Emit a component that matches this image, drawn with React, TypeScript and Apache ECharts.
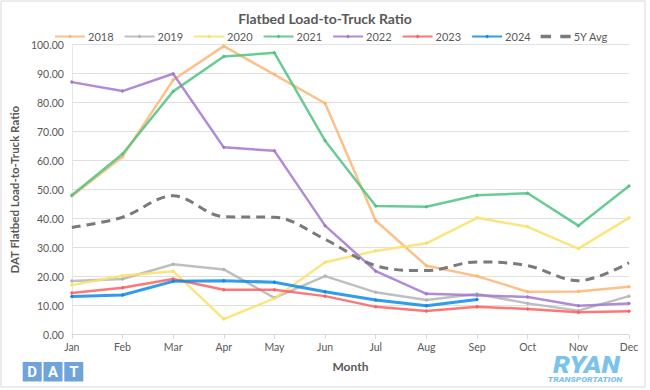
import React, { useEffect, useRef } from "react";
import * as echarts from "echarts";

const months = ["Jan", "Feb", "Mar", "Apr", "May", "Jun", "Jul", "Aug", "Sep", "Oct", "Nov", "Dec"];
const y2018 = [47.8, 61.4, 87.8, 99.5, 89.7, 79.8, 39.3, 23.8, 20.2, 14.8, 14.9, 16.5];
const y2019 = [18.5, 19.2, 24.3, 22.5, 12.7, 20.2, 14.6, 12.0, 14.0, 10.8, 8.3, 13.3];
const y2020 = [17.1, 20.3, 21.9, 5.4, 12.5, 25.0, 28.9, 31.5, 40.3, 37.2, 29.7, 40.3];
const y2021 = [48.1, 62.3, 83.9, 95.9, 97.2, 66.9, 44.4, 44.1, 48.1, 48.8, 37.6, 51.3];
const y2022 = [87.1, 84.0, 90.0, 64.6, 63.4, 37.6, 21.9, 14.1, 13.6, 13.0, 10.0, 10.8];
const y2023 = [14.4, 16.2, 19.2, 15.5, 15.5, 13.3, 9.6, 8.2, 9.6, 8.9, 7.7, 8.1];
const y2024 = [13.2, 13.7, 18.4, 18.6, 18.1, 14.8, 12.0, 10.0, 12.1];
const avg5y = [37.0, 40.5, 47.9, 40.7, 40.5, 32.9, 23.8, 22.1, 25.1, 23.8, 18.6, 24.8];
const yTicks = { min: 0, max: 100, interval: 10 };
const legendNames = ["2018", "2019", "2020", "2021", "2022", "2023", "2024", "5Y Avg"];

const FONT = "Lato";
const TXT = "#595959";
const DAT_BLUE = "#6EA3DC";
const RYAN_BLUE = "#7CC3EA";

function lineSeries(name: string, data: number[], color: string, width = 2.5) {
  return {
    name,
    type: "line",
    data,
    symbol: "diamond",
    symbolSize: 4,
    lineStyle: { color, width, opacity: 0.85 },
    itemStyle: { color },
    emphasis: { disabled: true },
  };
}

function datSquare(i: number) {
  const x = i * 20.8;
  return [
    { type: "rect", shape: { x, y: 0, width: 19, height: 19.5 }, style: { fill: DAT_BLUE } },
    {
      type: "text",
      x: x + 9.5,
      y: 10,
      style: { text: "DAT"[i], fill: "#fff", font: "bold 15px Roboto", align: "center", verticalAlign: "middle" },
    },
  ];
}

export default function App() {
  const ref = useRef<HTMLDivElement>(null);
  useEffect(() => {
    if (!ref.current) return;
    const chart = echarts.init(ref.current, null, { renderer: "svg" });
    chart.setOption({
      animation: false,
      backgroundColor: "#ffffff",
      textStyle: { fontFamily: FONT },
      title: {
        text: "Flatbed Load-to-Truck Ratio",
        left: "center",
        top: 6,
        textStyle: { fontFamily: FONT, fontSize: 14, fontWeight: "bold", color: TXT },
      },
      legend: {
        left: 49,
        top: 26,
        itemWidth: 30,
        itemHeight: 5,
        itemGap: 10,
        textStyle: { fontFamily: FONT, fontSize: 11, color: TXT, padding: [0, 0, 0, -2] },
        data: legendNames.map((n) =>
          n === "5Y Avg"
            ? {
                name: n,
                icon: "path://M0,0 L9,0 L9,3 L0,3 Z M17,0 L26,0 L26,3 L17,3 Z",
                itemStyle: { color: "#7a7a7a" },
              }
            : { name: n }
        ),
      },
      grid: { left: 50, right: 21, top: 44.7, bottom: 55.3, containLabel: false },
      xAxis: {
        type: "category",
        data: months,
        boundaryGap: false,
        name: "Month",
        nameLocation: "middle",
        nameGap: 26,
        nameTextStyle: { fontFamily: FONT, fontSize: 12, fontWeight: "bold", color: TXT },
        axisLine: { lineStyle: { color: "#d9d9d9" } },
        axisTick: { show: true, length: 4, lineStyle: { color: "#d9d9d9" } },
        axisLabel: { color: TXT, fontSize: 10.5, fontFamily: FONT, margin: 7 },
      },
      yAxis: {
        type: "value",
        min: yTicks.min,
        max: yTicks.max,
        interval: yTicks.interval,
        name: "DAT Flatbed Load-to-Truck Ratio",
        nameLocation: "middle",
        nameGap: 40,
        nameTextStyle: { fontFamily: FONT, fontSize: 11.5, fontWeight: "bold", color: TXT },
        axisLine: { show: true, lineStyle: { color: "#e6e6e6" } },
        axisLabel: {
          color: TXT,
          fontSize: 10.5,
          fontFamily: FONT,
          margin: 8,
          formatter: (v: number) => v.toFixed(2),
        },
        splitLine: { lineStyle: { color: "#e0e0e0" } },
      },
      series: [
        lineSeries("2018", y2018, "#FDB672"),
        lineSeries("2019", y2019, "#B4B4B4"),
        lineSeries("2020", y2020, "#FBE066"),
        lineSeries("2021", y2021, "#4FC382"),
        lineSeries("2022", y2022, "#A477CF"),
        lineSeries("2023", y2023, "#FF5E5E"),
        lineSeries("2024", y2024, "#0A8CE8", 3),
        {
          name: "5Y Avg",
          type: "line",
          data: avg5y,
          smooth: 0.35,
          symbol: "none",
          lineStyle: { color: "#7a7a7a", width: 3, type: [9, 6] },
          itemStyle: { color: "#7a7a7a" },
          emphasis: { disabled: true },
        },
      ],
      graphic: [
        {
          type: "rect",
          shape: { x: 1, y: 1, width: 644, height: 386 },
          style: { fill: "none", stroke: "#d9d9d9", lineWidth: 1 },
          silent: true,
        },
        {
          type: "group",
          x: 22.7,
          y: 362,
          children: [...datSquare(0), ...datSquare(1), ...datSquare(2)],
        },
        {
          type: "text",
          x: 586.5,
          y: 365,
          scaleX: 1.12,
          style: {
            text: "RYAN",
            fill: RYAN_BLUE,
            font: "italic 900 24px Roboto",
            align: "center",
            verticalAlign: "middle",
          },
        },
        {
          type: "text",
          x: 585,
          y: 379.3,
          scaleX: 1.25,
          style: {
            text: "TRANSPORTATION",
            fill: RYAN_BLUE,
            font: "italic 900 7px Roboto",
            align: "center",
            verticalAlign: "middle",
          },
        },
      ],
    });
    return () => chart.dispose();
  }, []);
  return <div ref={ref} style={{ position: "fixed", left: 0, top: 0, width: 650, height: 390 }} />;
}
